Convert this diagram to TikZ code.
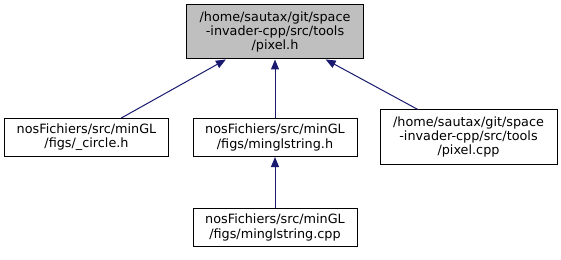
\documentclass[tikz,border=0pt]{standalone}
\usepackage{fontspec}
\setmainfont{DejaVu Sans}
\usetikzlibrary{arrows.meta}
\definecolor{edgeblue}{HTML}{191970}
\definecolor{boxgray}{HTML}{BFBFBF}

\begin{document}
\begin{tikzpicture}[x=0.75pt, y=-0.75pt,
	file/.style={draw, line width=0.75pt, align=center, inner sep=0pt,
		minimum width=164*0.75pt, minimum height=38*0.75pt,
		font=\fontsize{9.6}{10.6}\selectfont},
	bigfile/.style={file, minimum width=177*0.75pt, minimum height=54*0.75pt},
	edge/.style={draw=edgeblue, line width=0.75pt,
		-{Triangle[length=7.5pt, width=6pt, fill=edgeblue]}}]
	\useasboundingbox (0,0) rectangle (561,260);
	\node[bigfile, fill=boxgray] (pixelh) at (275,32) {/home/sautax/git/space\\-invader-cpp/src/tools\\/pixel.h};
	\node[file] (circleh) at (86.5,137.5) {nosFichiers/src/minGL\\/figs/\_circle.h};
	\node[file] (stringh) at (275,137.5) {nosFichiers/src/minGL\\/figs/minglstring.h};
	\node[bigfile] (pixelcpp) at (468.5,137) {/home/sautax/git/space\\-invader-cpp/src/tools\\/pixel.cpp};
	\node[file] (stringcpp) at (275,227.5) {nosFichiers/src/minGL\\/figs/minglstring.cpp};
	\draw[edge] (circleh) -- (pixelh);
	\draw[edge] (stringh) -- (pixelh);
	\draw[edge] (pixelcpp) -- (pixelh);
	\draw[edge] (stringcpp) -- (stringh);
\end{tikzpicture}
\end{document}
